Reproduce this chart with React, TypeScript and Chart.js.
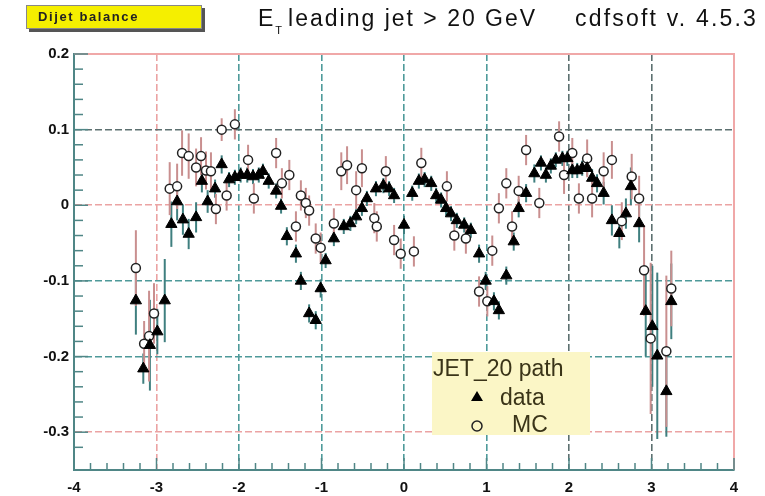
import React, { useEffect, useRef } from 'react';
import { Chart, registerables } from 'chart.js';
Chart.register(...registerables);

const FONT = '"Liberation Sans", Arial, sans-serif';

// ---- data (eta, balance, error) ----
const dataEta = [-3.25,-3.16,-3.08,-2.99,-2.90,-2.82,-2.75,-2.68,-2.61,-2.52,
  -2.45,-2.38,-2.29,-2.21,-2.12,-2.05,-1.98,-1.90,-1.83,-1.76,
  -1.71,-1.64,-1.55,-1.49,-1.42,-1.31,-1.25,-1.15,-1.07,-1.01,
  -0.95,-0.85,-0.73,-0.65,-0.58,-0.51,-0.45,-0.34,-0.25,-0.18,
  -0.12,0.0,0.10,0.18,0.25,0.33,0.39,0.45,0.51,0.57,
  0.64,0.73,0.81,0.91,0.99,1.09,1.15,1.24,1.33,1.39,
  1.48,1.58,1.66,1.72,1.78,1.84,1.92,1.98,2.04,2.10,
  2.16,2.22,2.28,2.34,2.42,2.52,2.61,2.69,2.75,2.85,
  2.93,3.01,3.07,3.18,3.24];
const dataBal = [-0.126,-0.216,-0.185,-0.167,-0.126,-0.025,0.005,-0.019,-0.038,-0.016,
  0.032,0.005,0.022,0.054,0.034,0.037,0.04,0.04,0.038,0.04,
  0.045,0.032,0.019,-0.001,-0.041,-0.064,-0.1,-0.143,-0.152,-0.11,
  -0.073,-0.044,-0.028,-0.024,-0.015,-0.004,0.009,0.022,0.026,0.022,
  0.013,-0.026,0.016,0.032,0.034,0.029,0.013,0.007,-0.004,-0.011,
  -0.02,-0.026,-0.033,-0.064,-0.1,-0.127,-0.139,-0.093,-0.048,-0.004,
  0.016,0.042,0.056,0.04,0.052,0.06,0.062,0.062,0.046,0.046,
  0.049,0.049,0.036,0.029,0.016,-0.02,-0.037,-0.011,0.025,-0.024,
  -0.14,-0.16,-0.199,-0.246,-0.127];
const dataErr = [0.045,0.02,0.06,0.03,0.055,0.03,0.025,0.02,0.02,0.02,
  0.015,0.015,0.012,0.012,0.01,0.01,0.01,0.01,0.01,0.01,
  0.01,0.01,0.01,0.01,0.012,0.012,0.012,0.012,0.012,0.012,
  0.01,0.01,0.01,0.01,0.01,0.01,0.01,0.01,0.01,0.01,
  0.01,0.012,0.01,0.01,0.01,0.01,0.01,0.01,0.01,0.01,
  0.01,0.01,0.01,0.012,0.012,0.012,0.012,0.012,0.012,0.012,
  0.012,0.012,0.01,0.01,0.01,0.01,0.01,0.01,0.01,0.01,
  0.01,0.01,0.012,0.012,0.015,0.02,0.02,0.02,0.025,0.025,
  0.06,0.08,0.11,0.06,0.05];

const mcEta = [-3.25,-3.15,-3.09,-3.03,-2.84,-2.75,-2.69,-2.61,-2.52,-2.46,
  -2.40,-2.34,-2.28,-2.21,-2.15,-2.05,-1.89,-1.82,-1.55,-1.48,
  -1.39,-1.31,-1.25,-1.19,-1.15,-1.07,-1.01,-0.85,-0.76,-0.69,
  -0.58,-0.51,-0.36,-0.33,-0.22,-0.12,-0.04,0.12,0.21,0.52,
  0.61,0.75,0.91,1.01,1.07,1.15,1.24,1.31,1.39,1.48,
  1.64,1.88,1.94,2.04,2.12,2.22,2.28,2.42,2.52,2.64,
  2.76,2.85,2.91,2.99,3.18,3.24];
const mcBal = [-0.083,-0.183,-0.173,-0.143,0.022,0.025,0.069,0.065,0.05,0.065,
  0.046,0.045,-0.005,0.1,0.013,0.107,0.06,0.009,0.069,0.029,
  0.04,-0.028,0.013,0.003,-0.007,-0.044,-0.056,-0.024,0.045,0.053,
  0.02,0.049,-0.017,-0.028,0.045,-0.046,-0.064,-0.061,0.056,0.025,
  -0.04,-0.044,-0.114,-0.127,-0.06,-0.004,0.029,-0.028,0.019,0.073,
  0.003,0.091,0.04,0.069,0.009,0.062,0.009,0.045,0.06,-0.021,
  0.038,0.009,-0.086,-0.176,-0.193,-0.11];
const mcErr = [0.05,0.03,0.06,0.04,0.035,0.03,0.03,0.03,0.025,0.025,
  0.025,0.025,0.02,0.015,0.02,0.02,0.02,0.02,0.02,0.02,
  0.02,0.02,0.02,0.02,0.02,0.02,0.02,0.02,0.025,0.025,
  0.025,0.025,0.02,0.02,0.02,0.02,0.02,0.02,0.02,0.02,
  0.02,0.02,0.02,0.02,0.02,0.02,0.02,0.02,0.02,0.02,
  0.02,0.02,0.025,0.02,0.02,0.025,0.025,0.025,0.025,0.025,
  0.03,0.03,0.06,0.1,0.1,0.05];

const xMin = -4, xMax = 4, yMin = -0.35, yMax = 0.2;
const legendTitle = 'JET_20 path';
const legendLabels = ['data', 'MC'];

const isMult = (v: number, step: number) => Math.abs(v / step - Math.round(v / step)) < 1e-6;
const NONE = 'rgba(0,0,0,0)';
const RED = '#eba3a3';
const TEAL = '#4e9a9a';
const DARK = '#5d7070';

const gridX = (v: number) => {
  if (!isMult(v, 1)) return NONE;
  const r = Math.round(v);
  if (r === -4 || r === 4) return NONE;
  if (r === -3) return RED;
  if (r >= 2) return DARK;
  return TEAL;
};
const gridY = (v: number) => {
  if (!isMult(v, 0.1)) return NONE;
  const r = Math.round(v * 10);
  if (r === 2) return NONE;
  if (r === 1) return DARK;
  if (r === 0 || r === -3) return RED;
  return TEAL;
};

const errorBars = {
  id: 'errorBars',
  beforeDatasetsDraw(chart: any) {
    const { ctx, scales: { x, y } } = chart;
    chart.data.datasets.forEach((ds: any) => {
      if (!ds.errs) return;
      ctx.save();
      ctx.strokeStyle = ds.errColor;
      ctx.lineWidth = 2;
      ds.data.forEach((p: any, i: number) => {
        const px = x.getPixelForValue(p.x);
        ctx.beginPath();
        ctx.moveTo(px, y.getPixelForValue(p.y - ds.errs[i]));
        ctx.lineTo(px, y.getPixelForValue(p.y + ds.errs[i]));
        ctx.stroke();
      });
      ctx.restore();
    });
  },
};

const frame = {
  id: 'frame',
  beforeDatasetsDraw(chart: any) {
    const { ctx, chartArea: a, scales: { x, y } } = chart;
    ctx.save();
    ctx.strokeStyle = '#f0a8a8';
    ctx.lineWidth = 2;
    ctx.beginPath();
    ctx.moveTo(a.left, a.top);
    ctx.lineTo(a.right, a.top);
    ctx.lineTo(a.right, a.bottom);
    ctx.stroke();
    ctx.lineWidth = 1.5;
    ctx.strokeStyle = '#4f8686';
    y.ticks.forEach((t: any) => {
      if (!isMult(t.value, 0.02)) return;
      const py = y.getPixelForValue(t.value);
      const len = isMult(t.value, 0.1) ? 14 : 9;
      ctx.beginPath();
      ctx.moveTo(a.left, py);
      ctx.lineTo(a.left + len, py);
      ctx.stroke();
    });
    x.ticks.forEach((t: any) => {
      if (!isMult(t.value, 0.2)) return;
      const px = x.getPixelForValue(t.value);
      const len = isMult(t.value, 1) ? 12 : 7;
      ctx.beginPath();
      ctx.moveTo(px, a.bottom);
      ctx.lineTo(px, a.bottom - len);
      ctx.stroke();
    });
    ctx.restore();
  },
};

const legendBox = {
  id: 'legendBox',
  afterDatasetsDraw(chart: any) {
    const { ctx } = chart;
    ctx.save();
    ctx.fillStyle = '#fbf6c6';
    ctx.fillRect(432, 352, 158, 83);
    ctx.fillStyle = '#3a3418';
    ctx.font = `23px ${FONT}`;
    ctx.textBaseline = 'alphabetic';
    ctx.textAlign = 'left';
    ctx.fillText(legendTitle, 433, 376);
    ctx.fillText(legendLabels[0], 500, 405);
    ctx.fillText(legendLabels[1], 512, 432);
    ctx.fillStyle = '#000';
    ctx.beginPath();
    ctx.moveTo(477, 391);
    ctx.lineTo(483, 401);
    ctx.lineTo(471, 401);
    ctx.closePath();
    ctx.fill();
    ctx.strokeStyle = '#222';
    ctx.lineWidth = 1.5;
    ctx.beginPath();
    ctx.arc(477, 426, 5, 0, Math.PI * 2);
    ctx.stroke();
    ctx.restore();
  },
};

export default function App() {
  const ref = useRef<HTMLCanvasElement>(null);
  useEffect(() => {
    const chart = new Chart(ref.current as HTMLCanvasElement, {
      type: 'scatter',
      data: {
        datasets: [
          {
            label: 'data',
            data: dataEta.map((x, i) => ({ x, y: dataBal[i] })),
            errs: dataErr,
            errColor: '#3f7f7f',
            pointStyle: 'triangle',
            pointRadius: 6.5,
            backgroundColor: '#000',
            borderColor: '#000',
            borderWidth: 1,
          } as any,
          {
            label: 'MC',
            data: mcEta.map((x, i) => ({ x, y: mcBal[i] })),
            errs: mcErr,
            errColor: '#c98f8f',
            pointStyle: 'circle',
            pointRadius: 4.5,
            backgroundColor: '#fff',
            borderColor: '#222',
            borderWidth: 1.5,
          } as any,
        ],
      },
      options: {
        animation: false,
        responsive: false,
        events: [],
        layout: { padding: { left: 0, top: 54, right: 31, bottom: 0 } },
        plugins: { legend: { display: false }, tooltip: { enabled: false } },
        scales: {
          x: {
            type: 'linear',
            min: xMin,
            max: xMax,
            afterFit: (s: any) => { s.height = 26; },
            ticks: {
              stepSize: 0.2,
              autoSkip: false,
              maxRotation: 0,
              padding: 9,
              color: '#111',
              font: { family: FONT, size: 15, weight: 'bold' },
              callback: (v: any) => (isMult(Number(v), 1) ? String(Math.round(Number(v))) : ''),
            },
            grid: {
              drawTicks: false,
              lineWidth: 1.6,
              color: (c: any) => gridX(c.tick ? c.tick.value : 0),
            },
            border: { color: '#4f8686', width: 2, dash: [7, 3] },
          },
          y: {
            type: 'linear',
            min: yMin,
            max: yMax,
            afterFit: (s: any) => { s.width = 74; },
            ticks: {
              stepSize: 0.02,
              autoSkip: false,
              padding: 5,
              color: '#111',
              font: { family: FONT, size: 15, weight: 'bold' },
              callback: (v: any) => {
                const n = Number(v);
                if (!isMult(n, 0.1)) return '';
                const r = Math.round(n * 10) / 10;
                return r === 0 ? '0' : r.toFixed(1);
              },
            },
            grid: {
              drawTicks: false,
              lineWidth: 1.6,
              color: (c: any) => gridY(c.tick ? c.tick.value : 0),
            },
            border: { color: '#4f8686', width: 2, dash: [7, 3] },
          },
        },
      },
      plugins: [errorBars, frame, legendBox],
    });
    return () => chart.destroy();
  }, []);

  return (
    <div style={{ position: 'fixed', left: 0, top: 0, width: 765, height: 496, background: '#fff', fontFamily: FONT }}>
      <canvas ref={ref} width={765} height={496} style={{ position: 'absolute', left: 0, top: 0 }} />
      <div style={{
        position: 'absolute', left: 26, top: 5, width: 176, height: 24, background: '#f5ef00',
        boxShadow: '3px 3px 0 #555', border: '1px solid #888', boxSizing: 'border-box',
        fontWeight: 'bold', fontSize: 13, letterSpacing: '1.6px', color: '#222', lineHeight: '22px', paddingLeft: 11,
      }}>Dijet balance</div>
      <div style={{ position: 'absolute', left: 258, top: 5, fontSize: 23, letterSpacing: '2px', color: '#111', whiteSpace: 'nowrap' }}>
        E<span style={{ fontSize: 11, position: 'relative', top: 8, marginRight: 6, letterSpacing: 0 }}>T</span>leading jet &gt; 20 GeV
      </div>
      <div style={{ position: 'absolute', left: 575, top: 5, fontSize: 23, letterSpacing: '2.2px', color: '#111', whiteSpace: 'nowrap' }}>
        cdfsoft v. 4.5.3
      </div>
    </div>
  );
}
